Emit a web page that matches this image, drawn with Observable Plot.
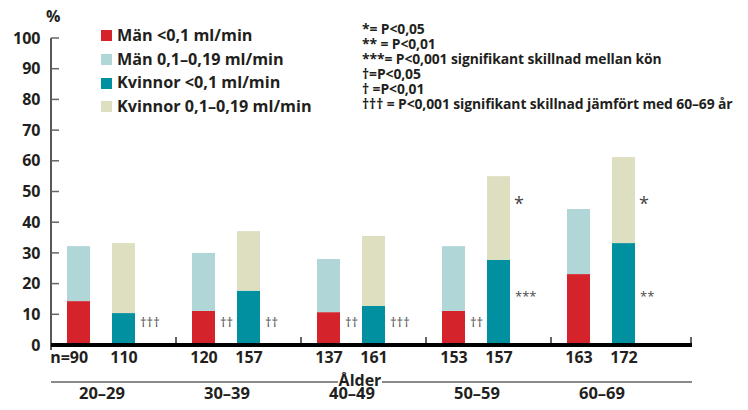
<!DOCTYPE html>
<html><head><meta charset="utf-8">
<script src="https://cdn.jsdelivr.net/npm/d3@7"></script>
<script src="https://cdn.jsdelivr.net/npm/@observablehq/plot@0.6"></script>
<style>
body{margin:0;background:#fff;}
#wrap{position:relative;width:748px;height:410px;font-family:"Open Sans",sans-serif;color:#231f20;overflow:hidden;}
#wrap svg{position:absolute;left:0;top:0;}
.legend{position:absolute;left:101px;top:24px;font-weight:700;font-size:16.2px;line-height:23.7px;}
.legend .row{display:flex;align-items:center;white-space:nowrap;}
.legend .sw{width:11px;height:11px;margin-right:5px;flex:none;}
.notes{position:absolute;left:362px;top:22px;font-weight:700;font-size:13.9px;line-height:14.9px;white-space:pre;letter-spacing:-0.1px;}
.pct{position:absolute;left:46px;top:5px;font-weight:700;font-size:16px;}
</style></head><body><div id="wrap"></div>
<script>
const ages = ["20–29", "30–39", "40–49", "50–59", "60–69"];
const sexes = ["Män", "Kvinnor"];
const seriesNames = ["Män <0,1 ml/min", "Män 0,1–0,19 ml/min", "Kvinnor <0,1 ml/min", "Kvinnor 0,1–0,19 ml/min"];
const seriesColors = ["#d5232b", "#b1d6d7", "#0090a0", "#dedfc1"];
const menLow = [14.3, 11.1, 10.7, 11.1, 23.1];
const menTotal = [32.2, 30.0, 28.0, 32.2, 44.3];
const womenLow = [10.4, 17.7, 12.7, 27.7, 33.2];
const womenTotal = [33.2, 37.1, 35.5, 55.0, 61.2];
const nMen = [90, 120, 137, 153, 163];
const nWomen = [110, 157, 161, 157, 172];
const yTicks = [0, 10, 20, 30, 40, 50, 60, 70, 80, 90, 100];
const notes = ["*= P<0,05", "** = P<0,01", "***= P<0,001 signifikant skillnad mellan kön", "†=P<0,05", "† =P<0,01", "††† = P<0,001 signifikant skillnad jämfört med 60–69 år"];
const annAge = ["20–29", "30–39", "30–39", "40–49", "40–49", "50–59", "50–59", "50–59", "60–69", "60–69"];
const annSex = ["Kvinnor", "Män", "Kvinnor", "Män", "Kvinnor", "Män", "Kvinnor", "Kvinnor", "Kvinnor", "Kvinnor"];
const annText = ["†††", "††", "††", "††", "†††", "††", "*", "***", "*", "**"];
const annY = [7.5, 7.5, 7.5, 7.5, 7.5, 7.5, 46, 16, 46, 16];
const axisLabel = "Ålder";

const rows = [];
ages.forEach((a, i) => {
  rows.push({age: a, sex: "Män", series: seriesNames[0], value: menLow[i]});
  rows.push({age: a, sex: "Män", series: seriesNames[1], value: menTotal[i] - menLow[i]});
  rows.push({age: a, sex: "Kvinnor", series: seriesNames[2], value: womenLow[i]});
  rows.push({age: a, sex: "Kvinnor", series: seriesNames[3], value: womenTotal[i] - womenLow[i]});
});
const nRows = [];
ages.forEach((a, i) => {
  nRows.push({age: a, sex: "Män", n: String(nMen[i])});
  nRows.push({age: a, sex: "Kvinnor", n: String(nWomen[i])});
});
const ann = annText.map((t, i) => ({age: annAge[i], sex: annSex[i], text: t, y: annY[i], big: t === "*"}));

const chart = Plot.plot({
  width: 748, height: 410,
  marginTop: 38, marginBottom: 65, marginLeft: 51, marginRight: 56,
  style: {fontFamily: "Open Sans, sans-serif", color: "#231f20", background: "transparent"},
  fx: {domain: ages, paddingInner: 0, paddingOuter: 0.058, align: 0, axis: null, label: null},
  x: {domain: sexes, paddingInner: 0.478, paddingOuter: 0.6, align: 0.29, axis: null},
  y: {domain: [0, 100], axis: null},
  color: {domain: seriesNames, range: seriesColors},
  marks: [
    Plot.axisY({ticks: yTicks, tickSize: 0, tickPadding: 11, label: null, fontSize: 16, fontWeight: 700}),
    Plot.barY(rows, {fx: "age", x: "sex", y: "value", fill: "series"}),
    Plot.text(nRows, {fx: "age", x: "sex", text: "n", frameAnchor: "bottom", dy: 17, fontSize: 16, fontWeight: 700, fill: "#231f20"}),
    Plot.text(nRows.slice(0, 1), {fx: "age", x: "sex", text: () => "n=", frameAnchor: "bottom", dy: 17, dx: -9, textAnchor: "end", fontSize: 16, fontWeight: 700, fill: "#231f20"}),
    Plot.text(ages, {fx: d => d, x: () => "Män", text: d => d, frameAnchor: "bottom", dx: 23, dy: 53, fontSize: 16.5, fontWeight: 700, fill: "#231f20"}),
    Plot.text(ann.filter(d => !d.big), {fx: "age", x: "sex", y: "y", text: "text", textAnchor: "start", dx: 16, fontSize: 13, fill: "#4a4a4a"}),
    Plot.text(ann.filter(d => d.big), {fx: "age", x: "sex", y: "y", text: "text", textAnchor: "start", dx: 15, fontSize: 18, fill: "#444"})
  ]
});

const wrap = document.getElementById("wrap");
wrap.appendChild(chart);

// decorations derived from the plot's own scales
const ys = chart.scale("y"), fxs = chart.scale("fx");
const svg = d3.select(chart);
const x0 = fxs.range[0], x1 = 748 - 56;
const y0 = ys.apply(0), yTop = ys.apply(100);
const g = svg.append("g");
g.append("line").attr("x1", x0).attr("x2", x0).attr("y1", yTop).attr("y2", y0 + 5).attr("stroke", "#231f20").attr("stroke-width", 1.5);
yTicks.forEach(t => {
  g.append("line").attr("x1", x0).attr("x2", x0 + 8).attr("y1", ys.apply(t)).attr("y2", ys.apply(t)).attr("stroke", "#666").attr("stroke-width", 1.5);
});
ages.forEach((a, i) => {
  const xe = i === ages.length - 1 ? x1 - 1 : fxs.apply(a) + fxs.bandwidth;
  g.append("line").attr("x1", xe).attr("x2", xe).attr("y1", y0 - 8).attr("y2", y0).attr("stroke", "#333").attr("stroke-width", 1.5);
});
g.append("line").attr("x1", x0).attr("x2", x1).attr("y1", y0).attr("y2", y0).attr("stroke", "#000").attr("stroke-width", 4);
const ly = y0 + 37, gapL = 338, gapR = 382;
g.append("line").attr("x1", x0).attr("x2", gapL).attr("y1", ly).attr("y2", ly).attr("stroke", "#8a8a8a").attr("stroke-width", 2);
g.append("line").attr("x1", gapR).attr("x2", x1).attr("y1", ly).attr("y2", ly).attr("stroke", "#8a8a8a").attr("stroke-width", 2);
g.append("text").attr("x", (gapL + gapR) / 2).attr("y", ly + 4).attr("text-anchor", "middle")
  .attr("font-size", 16).attr("font-weight", 700).attr("fill", "#231f20").attr("font-family", "Open Sans, sans-serif").text(axisLabel);

// legend, notes, unit
const pct = document.createElement("div"); pct.className = "pct"; pct.textContent = "%"; wrap.appendChild(pct);
const leg = document.createElement("div"); leg.className = "legend";
seriesNames.forEach((s, i) => {
  const r = document.createElement("div"); r.className = "row";
  const sw = document.createElement("span"); sw.className = "sw"; sw.style.background = seriesColors[i];
  const t = document.createElement("span"); t.textContent = s;
  r.appendChild(sw); r.appendChild(t); leg.appendChild(r);
});
wrap.appendChild(leg);
const nt = document.createElement("div"); nt.className = "notes"; nt.textContent = notes.join("\n"); wrap.appendChild(nt);
</script></body></html>
